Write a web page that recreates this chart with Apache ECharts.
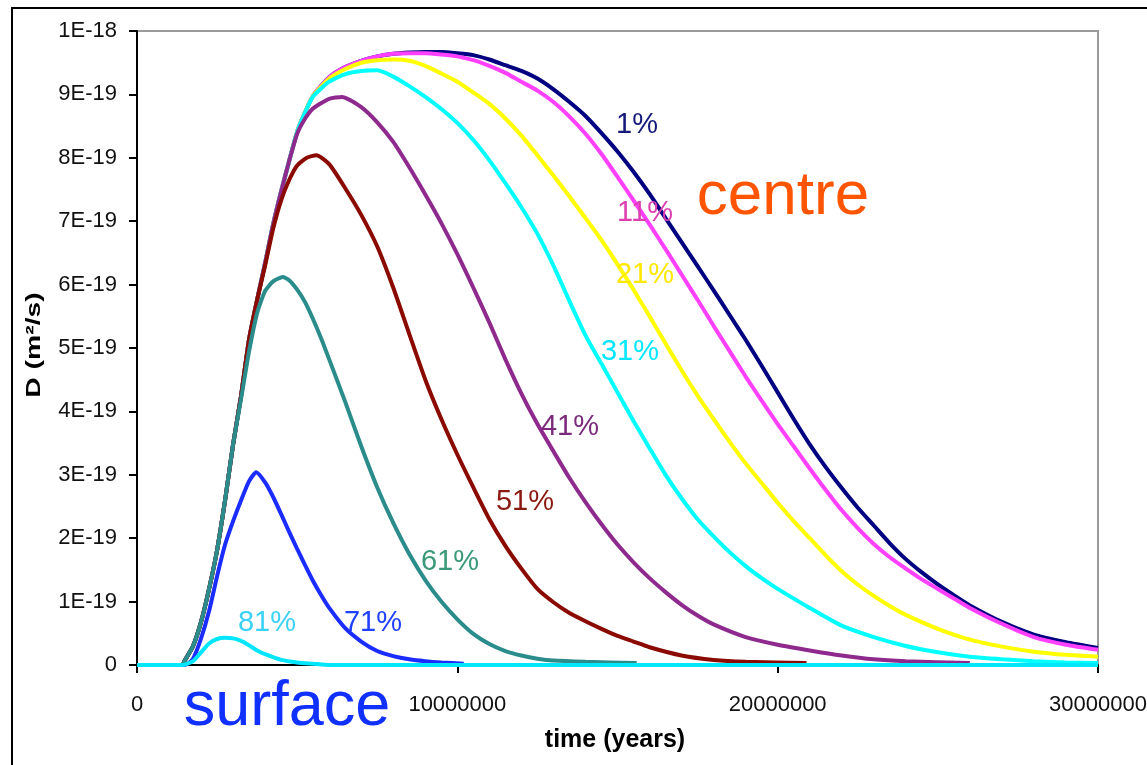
<!DOCTYPE html>
<html>
<head>
<meta charset="utf-8">
<title>Diffusion coefficient vs time</title>
<script src="https://cdn.jsdelivr.net/npm/echarts@6/dist/echarts.min.js"></script>
<style>
  html, body { margin: 0; padding: 0; background: #ffffff; }
  #chart { width: 1147px; height: 765px; }
</style>
</head>
<body>
<div id="chart"></div>
<script>
// Diffusion coefficient D (in units of 1E-19 m²/s) against time (millions of years)
// for shells at different depths, from the centre (1%) to the surface (81%).
const seriesNames = ['1%', '11%', '21%', '31%', '41%', '51%', '61%', '71%', '81%'];

const yTickLabels = ['0', '1E-19', '2E-19', '3E-19', '4E-19', '5E-19', '6E-19', '7E-19', '8E-19', '9E-19', '1E-18'];
const xTickLabels = ['0', '10000000', '20000000', '30000000'];

// [time (Myr), D (1E-19 m²/s)]
const d01 = [[0,0],[1.4,0],[1.5,0.08],[1.75,0.3],[2.0,0.68],[2.25,1.2],[2.5,1.81],[2.75,2.6],[3.0,3.48],[3.25,4.25],[3.5,5.14],[3.75,5.76],[4.0,6.34],[4.25,6.95],[4.5,7.47],[4.75,7.95],[5.0,8.41],[5.25,8.72],[5.5,8.98],[6.0,9.27],[6.5,9.43],[7.0,9.53],[7.5,9.6],[8.0,9.64],[8.5,9.66],[9.0,9.67],[9.5,9.67],[10.0,9.65],[10.5,9.62],[11.0,9.55],[11.5,9.46],[12.0,9.37],[12.5,9.25],[13.0,9.08],[13.5,8.88],[14.0,8.66],[14.5,8.39],[15.0,8.1],[15.5,7.78],[16.0,7.43],[16.5,7.05],[17.0,6.67],[17.5,6.29],[18.0,5.91],[18.5,5.52],[19.0,5.13],[19.5,4.72],[20.0,4.3],[20.5,3.88],[21.0,3.48],[21.5,3.12],[22.0,2.79],[22.5,2.48],[23.0,2.2],[23.5,1.92],[24.0,1.67],[24.5,1.46],[25.0,1.27],[25.5,1.1],[26.0,0.94],[27.0,0.68],[28.0,0.48],[29.0,0.36],[30.0,0.27]];
const d11 = [[0,0],[1.4,0],[1.5,0.08],[1.75,0.3],[2.0,0.68],[2.25,1.2],[2.5,1.81],[2.75,2.6],[3.0,3.48],[3.25,4.25],[3.5,5.14],[3.75,5.76],[4.0,6.34],[4.25,6.95],[4.5,7.47],[4.75,7.95],[5.0,8.41],[5.25,8.72],[5.5,8.98],[6.0,9.27],[6.5,9.43],[7.0,9.53],[7.5,9.6],[8.0,9.64],[8.5,9.65],[9.0,9.65],[9.5,9.63],[10.0,9.6],[10.5,9.54],[11.0,9.45],[11.5,9.34],[12.0,9.2],[12.5,9.06],[13.0,8.88],[13.5,8.65],[14.0,8.38],[14.5,8.06],[15.0,7.7],[15.5,7.33],[16.0,6.95],[16.5,6.56],[17.0,6.16],[17.5,5.76],[18.0,5.35],[18.5,4.95],[19.0,4.55],[19.5,4.17],[20.0,3.8],[20.5,3.45],[21.0,3.1],[21.5,2.76],[22.0,2.44],[22.5,2.16],[23.0,1.91],[23.5,1.7],[24.0,1.52],[24.5,1.35],[25.0,1.2],[25.5,1.05],[26.0,0.9],[27.0,0.65],[28.0,0.44],[29.0,0.32],[30.0,0.24]];
const d21 = [[0,0],[1.4,0],[1.5,0.08],[1.75,0.3],[2.0,0.68],[2.25,1.2],[2.5,1.81],[2.75,2.6],[3.0,3.48],[3.25,4.25],[3.5,5.14],[3.75,5.76],[4.0,6.34],[4.25,6.95],[4.5,7.47],[4.75,7.95],[5.0,8.41],[5.25,8.72],[5.5,8.98],[6.0,9.25],[6.5,9.4],[7.0,9.5],[7.5,9.54],[8.0,9.55],[8.5,9.53],[9.0,9.45],[9.5,9.33],[10.0,9.2],[10.5,9.03],[11.0,8.85],[11.5,8.62],[12.0,8.35],[12.5,8.04],[13.0,7.72],[13.5,7.39],[14.0,7.05],[14.5,6.7],[15.0,6.32],[15.5,5.92],[16.0,5.5],[16.5,5.07],[17.0,4.65],[17.5,4.25],[18.0,3.88],[18.5,3.52],[19.0,3.18],[19.5,2.87],[20.0,2.56],[20.5,2.27],[21.0,2.0],[21.5,1.73],[22.0,1.48],[22.5,1.27],[23.0,1.09],[23.5,0.93],[24.0,0.79],[25.0,0.57],[26.0,0.4],[27.0,0.29],[28.0,0.21],[29.0,0.16],[30.0,0.13]];
const d31 = [[0,0],[1.4,0],[1.5,0.08],[1.75,0.3],[2.0,0.68],[2.25,1.2],[2.5,1.81],[2.75,2.6],[3.0,3.48],[3.25,4.25],[3.5,5.14],[3.75,5.76],[4.0,6.34],[4.25,6.95],[4.5,7.47],[4.75,7.95],[5.0,8.41],[5.25,8.72],[5.5,8.97],[6.0,9.2],[6.5,9.32],[7.0,9.37],[7.5,9.38],[8.0,9.28],[8.5,9.13],[9.0,8.96],[9.5,8.77],[10.0,8.55],[10.5,8.28],[11.0,7.96],[11.5,7.6],[12.0,7.22],[12.5,6.8],[13.0,6.3],[13.5,5.74],[14.0,5.2],[14.5,4.75],[15.0,4.3],[15.5,3.85],[16.0,3.42],[16.5,3.0],[17.0,2.63],[17.5,2.3],[18.0,2.03],[18.5,1.78],[19.0,1.56],[19.5,1.37],[20.0,1.2],[21.0,0.9],[22.0,0.62],[23.0,0.44],[24.0,0.3],[25.0,0.2],[26.0,0.13],[27.0,0.09],[28.0,0.06],[29.0,0.04],[30.0,0.03]];
const d41 = [[0,0],[1.4,0],[1.5,0.08],[1.75,0.3],[2.0,0.68],[2.25,1.2],[2.5,1.81],[2.75,2.6],[3.0,3.48],[3.25,4.25],[3.5,5.14],[3.75,5.76],[4.0,6.34],[4.25,6.95],[4.5,7.47],[4.75,7.95],[5.0,8.38],[5.25,8.62],[5.5,8.78],[6.0,8.93],[6.4,8.96],[7.0,8.8],[7.5,8.56],[8.0,8.25],[8.5,7.85],[9.0,7.42],[9.5,6.97],[10.0,6.48],[10.5,5.95],[11.0,5.4],[11.5,4.82],[12.0,4.28],[12.5,3.8],[13.0,3.37],[13.5,2.95],[14.0,2.57],[14.5,2.22],[15.0,1.9],[15.5,1.62],[16.0,1.37],[16.5,1.15],[17.0,0.95],[17.5,0.78],[18.0,0.64],[19.0,0.44],[20.0,0.32],[21.0,0.23],[22.0,0.15],[23.0,0.09],[24.0,0.06],[26.0,0.03]];
const d51 = [[0,0],[1.4,0],[1.5,0.08],[1.75,0.3],[2.0,0.68],[2.25,1.2],[2.5,1.81],[2.75,2.6],[3.0,3.48],[3.25,4.25],[3.5,5.14],[3.75,5.76],[4.0,6.3],[4.25,6.88],[4.5,7.33],[4.75,7.65],[5.0,7.88],[5.3,8.0],[5.6,8.04],[6.0,7.9],[6.5,7.52],[7.0,7.1],[7.5,6.6],[8.0,5.95],[8.5,5.22],[9.0,4.5],[9.5,3.88],[10.0,3.32],[10.5,2.8],[11.0,2.3],[11.5,1.88],[12.0,1.52],[12.5,1.2],[13.0,0.99],[13.5,0.82],[14.0,0.69],[14.5,0.57],[15.0,0.46],[15.5,0.37],[16.0,0.28],[17.0,0.15],[18.0,0.08],[19.0,0.05],[20.9,0.03]];
const d61 = [[0,0],[1.4,0],[1.5,0.08],[1.75,0.3],[2.0,0.68],[2.25,1.2],[2.5,1.81],[2.75,2.6],[3.0,3.48],[3.25,4.2],[3.5,4.95],[3.75,5.55],[4.0,5.9],[4.25,6.05],[4.55,6.12],[4.75,6.07],[5.0,5.92],[5.25,5.72],[5.5,5.45],[5.75,5.15],[6.0,4.82],[6.5,4.15],[7.0,3.45],[7.5,2.8],[8.0,2.24],[8.5,1.75],[9.0,1.34],[9.5,1.0],[10.0,0.72],[10.5,0.49],[11.0,0.33],[11.5,0.22],[12.0,0.15],[12.5,0.1],[13.0,0.07],[14.0,0.05],[15.6,0.03]];
const d71 = [[0,0],[1.5,0],[1.75,0.1],[2.0,0.42],[2.25,0.85],[2.5,1.4],[2.75,1.9],[3.0,2.27],[3.25,2.6],[3.5,2.9],[3.72,3.04],[4.0,2.88],[4.25,2.65],[4.5,2.38],[4.75,2.1],[5.0,1.83],[5.25,1.57],[5.5,1.32],[5.75,1.1],[6.0,0.9],[6.5,0.58],[7.0,0.37],[7.5,0.22],[8.0,0.14],[8.5,0.09],[9.0,0.06],[9.5,0.04],[10.2,0.02]];
const d81 = [[0,0],[1.4,0],[1.75,0.06],[2.0,0.2],[2.25,0.34],[2.5,0.41],[2.75,0.43],[3.0,0.42],[3.25,0.38],[3.5,0.31],[3.75,0.23],[4.0,0.17],[4.5,0.08],[5.0,0.04],[5.5,0.02],[6.0,0],[30.0,0]];

const seriesData = [d01, d11, d21, d31, d41, d51, d61, d71, d81];
const lineColors = ['#000080', '#ff40ff', '#ffff00', '#00ffff', '#8e2a8e', '#8b0a00', '#2b8c8c', '#1a2cff', '#00e6ff'];
const labelColors = ['#14197a', '#dd3fb0', '#ffe800', '#00e8ff', '#7b2a7b', '#8b1a10', '#3a9a78', '#2040ff', '#3cd2f5'];

// where each series name sits, in page pixels
const labelSpots = [[637,125],[645,213],[645,275],[630,352],[570,427],[525,502],[450,562],[373,623],[267,623]];

const FONT = '"Liberation Sans", Arial, sans-serif';

const chart = echarts.init(document.getElementById('chart'), null, { renderer: 'canvas' });

const graphics = [
  // chart frame
  { type: 'rect', shape: { x: 12, y: 8, width: 1150, height: 770 }, style: { fill: null, stroke: '#000', lineWidth: 2 }, silent: true, z: 0 },
  // y axis title
  { type: 'text', x: 34, y: 345, rotation: Math.PI / 2, scaleX: 1.35,
    style: { text: 'D (m²/s)', font: 'bold 21px ' + FONT, fill: '#000', align: 'center', verticalAlign: 'middle' }, z: 10 },
  // x axis title
  { type: 'text', x: 615, y: 740,
    style: { text: 'time (years)', font: 'bold 25px ' + FONT, fill: '#000', align: 'center', verticalAlign: 'middle' }, z: 10 },
  { type: 'text', x: 783, y: 197,
    style: { text: 'centre', font: '62px ' + FONT, fill: '#ff5500', align: 'center', verticalAlign: 'middle' }, z: 10 },
  { type: 'text', x: 287, y: 708,
    style: { text: 'surface', font: '63px ' + FONT, fill: '#1030ff', align: 'center', verticalAlign: 'middle' }, z: 10 }
];
seriesNames.forEach((name, i) => {
  graphics.push({ type: 'text', x: labelSpots[i][0], y: labelSpots[i][1],
    style: { text: name, font: '29px ' + FONT, fill: labelColors[i], align: 'center', verticalAlign: 'middle' }, z: 10 });
});

chart.setOption({
  animation: false,
  backgroundColor: '#ffffff',
  grid: {
    left: 137, right: 49, top: 31, bottom: 100,
    show: true, borderColor: '#9a9a9a', borderWidth: 2, backgroundColor: 'transparent',
    containLabel: false, outerBoundsMode: 'none'
  },
  xAxis: {
    type: 'value', min: 0, max: 30000000, interval: 10000000,
    axisLine: { show: true, onZero: false, lineStyle: { color: '#000', width: 2 } },
    axisTick: { show: true, inside: false, length: 8, lineStyle: { color: '#000', width: 2 } },
    axisLabel: { margin: 29, fontSize: 22, fontFamily: FONT, color: '#111',
      formatter: v => xTickLabels[Math.round(v / 10000000)] },
    splitLine: { show: false }
  },
  yAxis: {
    type: 'value', min: 0, max: 10, interval: 1,
    axisLine: { show: true, lineStyle: { color: '#000', width: 2 } },
    axisTick: { show: true, inside: false, length: 8, lineStyle: { color: '#000', width: 2 } },
    axisLabel: { margin: 20, fontSize: 22, fontFamily: FONT, color: '#111',
      formatter: v => yTickLabels[Math.round(v)] },
    splitLine: { show: false }
  },
  series: seriesNames.map((name, i) => ({
    name: name,
    type: 'line',
    data: seriesData[i].map(p => [p[0] * 1e6, p[1]]),
    showSymbol: false,
    smooth: 0.2,
    lineStyle: { color: lineColors[i], width: 4 },
    itemStyle: { color: lineColors[i] },
    z: 2 + i
  })),
  graphic: graphics
});
</script>
</body>
</html>
